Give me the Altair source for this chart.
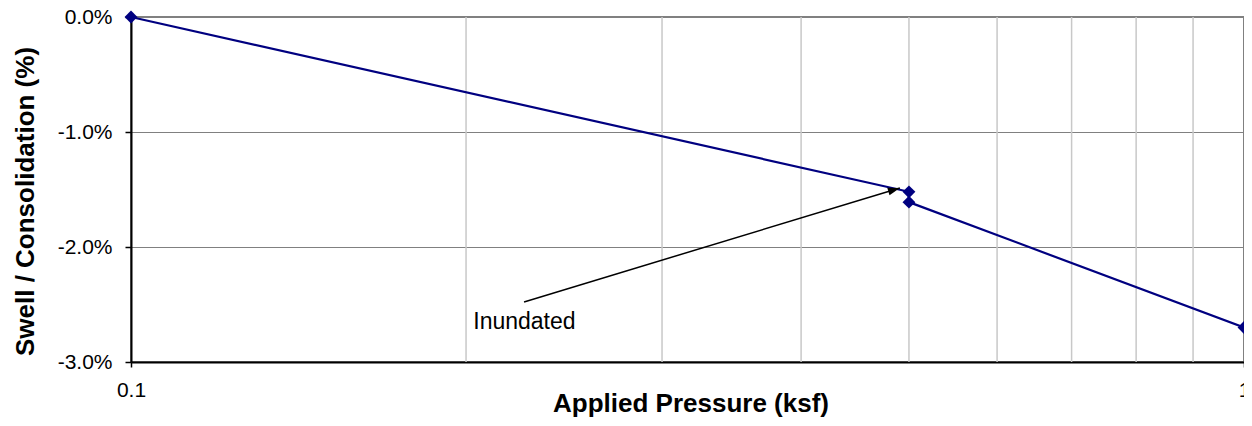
import math
import altair as alt
import pandas as pd

# ---- data ----
pressure = [0.1, 0.5, 0.5, 1.0]            # ksf
swell = [0.0, -0.0152, -0.0161, -0.027]    # fraction (shown as %)
minor_grid = [0.2, 0.3, 0.4, 0.5, 0.6, 0.7, 0.8, 0.9]
x_ticks = [0.1, 1.0]
y_ticks = [-0.03, -0.02, -0.01, 0.0]
note_text = ["Inundated"]
note_x = [0.203]
note_y = [-0.0265]
arrow_x = [0.2255, 0.4907]
arrow_y = [-0.02478, -0.01487]

W, H = 1113, 345
FONT = "Liberation Sans"
NAVY = "#000080"

xs = alt.Scale(type="log", domain=[0.1, 1.0], nice=False)
ys = alt.Scale(domain=[-0.03, 0.0], nice=False, zero=False)

x_axis = alt.Axis(
    values=x_ticks, format="~g", grid=False, labelFlush=False,
    domainColor="black", domainWidth=2, tickColor="black", tickSize=5, tickWidth=1.5,
    labelFont=FONT, labelFontSize=21, labelColor="black", labelPadding=12,
    title="Applied Pressure (ksf)", titleFont=FONT, titleFontSize=26, titleFontWeight="bold",
    titleColor="black", titleBaseline="alphabetic", titleY=49, titleX=(1119 / 2),
)
y_axis = alt.Axis(
    values=y_ticks, format=".1%", labelExpr="replace(datum.label, '\u2212', '-')",
    grid=True, gridColor="#808080", gridWidth=1,
    domainColor="black", domainWidth=2, tickColor="black", tickSize=6, tickWidth=1.5,
    labelFont=FONT, labelFontSize=21, labelColor="black", labelPadding=13,
    title="Swell / Consolidation (%)", titleFont=FONT, titleFontSize=26, titleFontWeight="bold",
    titleColor="black", titleBaseline="alphabetic", titleAngle=270, titleX=-98, titleY=184,
    titleAlign="center",
)

X = alt.X("p:Q", scale=xs, axis=x_axis)
Y = alt.Y("s:Q", scale=ys, axis=y_axis)

grid = alt.Chart(pd.DataFrame({"p": minor_grid})).mark_rule(
    color="#c8c8c8", strokeWidth=1.5
).encode(x=X)

df = pd.DataFrame({"p": pressure, "s": swell, "o": list(range(len(pressure)))})
base = alt.Chart(df).encode(x=X, y=Y, order="o:O")
line = base.mark_line(color=NAVY, strokeWidth=2.2)
pts = base.mark_point(shape="diamond", filled=True, size=165, color=NAVY, opacity=1)

arr_df = pd.DataFrame({"p": arrow_x, "s": arrow_y, "o": [0, 1]})
arrow_line = alt.Chart(arr_df).mark_line(color="black", strokeWidth=1.5).encode(
    x=X, y=Y, order="o:O"
)
dx = W * (math.log10(arrow_x[1]) - math.log10(arrow_x[0]))
dy = -H * (arrow_y[1] - arrow_y[0]) / 0.03
ang = math.degrees(math.atan2(dy, dx)) % 360
head = alt.Chart(pd.DataFrame({"p": arrow_x[1:], "s": arrow_y[1:]})).mark_point(
    shape="M0,0L-2,-0.65L-2,0.65Z", filled=True, size=144, color="black", opacity=1, angle=ang
).encode(x=X, y=Y)

note = alt.Chart(pd.DataFrame({"p": note_x, "s": note_y, "t": note_text})).mark_text(
    align="left", baseline="middle", font=FONT, fontSize=23, color="black"
).encode(x=X, y=Y, text="t:N")

chart = alt.layer(grid, line, arrow_line, head, pts, note).properties(
    width=W,
    height=H,
    autosize=alt.AutoSizeParams(type="none"),
    padding={"left": 123, "top": 9, "right": 0, "bottom": 56},
    title=alt.TitleParams(
        "Swell/Consolidation Plot", font=FONT, fontSize=23, fontWeight="bold",
        color="black", anchor="middle", baseline="alphabetic", offset=5, dx=-36,
        frame="group",
    ),
).configure_view(stroke="#808080", strokeWidth=2)

chart.save("out.html", embed_options={"renderer": "svg", "actions": False})
